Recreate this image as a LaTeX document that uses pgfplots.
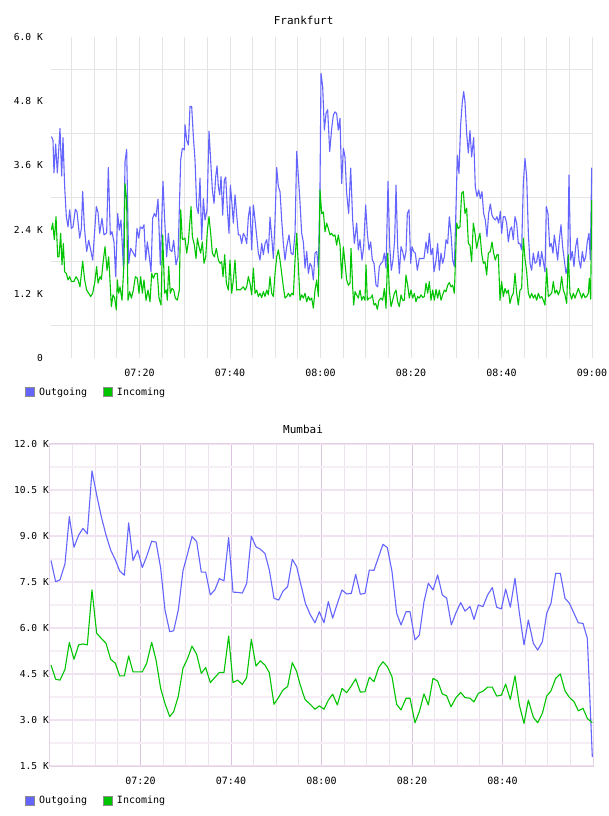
\documentclass[border=0pt]{standalone}
\usepackage{pgfplots}
\pgfplotsset{compat=1.18}
\usepackage{fontspec}
\setmainfont{DejaVu Sans Mono}

\definecolor{outblue}{RGB}{100,100,255}
\definecolor{ingreen}{RGB}{0,196,0}
\definecolor{gridgray}{RGB}{228,228,228}
\definecolor{mauvemaj}{RGB}{218,196,224}
\definecolor{mauvemin}{RGB}{236,226,238}
\definecolor{mauveh}{RGB}{240,226,241}
\definecolor{mauvehmin}{RGB}{245,239,245}
\definecolor{mauveframe}{RGB}{230,208,232}
\definecolor{legedge}{RGB}{140,140,140}

% Frankfurt, minutes after 07:00 / traffic in thousands
\pgfplotstableread{
m v
0.52 4.14
0.88 4.07
1.10 3.46
1.47 4.00
1.84 3.46
2.43 4.29
2.80 3.40
3.09 4.12
3.46 3.20
3.83 2.64
4.20 2.45
4.57 2.77
4.94 2.42
5.30 2.45
5.82 2.78
6.19 2.73
6.78 2.24
7.15 2.42
7.44 3.11
7.81 2.45
8.32 1.99
8.77 2.20
9.21 2.02
9.65 1.83
10.46 2.83
10.83 2.72
11.20 2.33
11.71 2.61
12.15 2.30
12.74 2.34
13.11 3.56
13.55 2.30
13.92 2.36
14.36 2.17
14.73 1.52
15.17 2.70
15.54 2.39
15.91 2.58
16.43 1.71
16.80 3.67
17.16 3.90
17.61 1.77
18.05 2.05
18.64 1.96
19.08 1.89
19.45 2.42
19.82 2.24
20.18 2.45
20.63 2.42
20.99 2.49
21.36 1.83
21.73 2.17
22.17 1.89
22.54 1.61
22.91 2.61
23.28 2.70
23.65 2.64
24.09 2.97
24.60 1.74
25.19 3.30
25.56 2.58
26.00 1.89
26.37 2.33
26.74 2.02
27.18 1.99
27.55 2.20
28.07 1.74
28.51 1.89
29.10 3.70
29.47 3.92
29.91 3.89
30.06 4.36
30.43 4.07
30.80 3.98
31.16 4.70
31.53 4.70
31.90 4.14
32.27 3.70
32.64 2.83
33.00 2.70
33.37 3.36
33.74 2.21
34.11 2.98
34.48 2.58
34.92 2.77
35.36 4.24
35.80 3.58
36.10 3.14
36.47 2.89
36.84 3.39
37.13 3.59
37.43 3.20
37.72 3.05
38.02 3.39
38.38 2.67
38.75 3.33
39.05 3.38
39.42 2.77
39.78 2.33
40.08 3.23
40.37 2.95
40.74 2.52
41.11 3.05
41.48 2.67
41.85 2.30
42.21 2.30
42.58 2.14
42.95 2.33
43.32 2.27
43.69 2.14
44.06 2.64
44.42 2.83
44.79 2.02
45.16 2.86
45.53 2.58
45.90 2.27
46.27 1.96
46.63 1.83
47.00 2.14
47.37 1.93
47.74 2.14
48.11 2.21
48.48 1.96
48.84 2.63
49.21 2.27
49.58 1.86
49.95 2.58
50.32 3.56
50.69 3.20
51.05 3.11
51.42 2.58
51.79 2.14
52.16 1.83
52.53 2.08
53.04 2.30
53.49 1.96
53.93 1.93
54.37 2.33
54.74 3.86
55.11 3.39
55.48 2.89
55.84 2.33
56.21 2.17
56.58 1.68
56.95 1.99
57.32 1.58
57.68 1.77
58.05 1.71
58.42 1.46
58.79 1.96
59.16 1.99
59.53 1.68
59.89 3.20
60.11 5.32
60.48 5.07
60.85 4.26
61.22 4.57
61.58 4.64
62.03 3.86
62.47 4.29
62.84 4.54
63.20 4.60
63.57 4.57
63.94 4.26
64.31 4.48
64.68 3.26
65.05 3.92
65.41 3.76
65.78 3.08
66.22 2.70
66.67 3.55
67.11 2.58
67.48 2.14
67.99 2.52
68.36 2.02
68.73 2.21
69.17 1.83
69.54 2.08
69.98 2.86
70.35 2.33
70.72 2.02
71.09 2.17
71.45 1.83
71.82 1.77
72.27 1.36
72.63 1.33
73.00 1.71
73.37 1.77
73.74 1.80
74.11 1.96
74.48 1.68
74.92 3.30
75.29 2.08
75.65 1.64
76.02 1.83
76.39 2.21
76.69 3.23
77.05 2.08
77.42 1.58
77.79 2.08
78.16 1.99
78.53 1.83
78.89 1.99
79.19 2.70
79.56 2.77
79.93 1.77
80.22 2.08
80.59 1.99
80.96 1.96
81.40 1.64
81.84 1.86
82.36 1.86
82.87 1.86
83.32 2.17
83.68 1.96
84.05 2.33
84.42 1.93
84.79 2.05
85.08 1.61
85.53 1.83
85.89 2.14
86.26 1.64
86.63 1.96
87.00 1.77
87.37 1.89
87.74 2.21
88.11 2.14
88.47 2.64
88.84 2.33
89.21 1.83
89.58 1.71
89.95 2.83
90.24 3.79
90.60 3.45
90.97 4.36
91.34 4.79
91.64 4.98
91.93 4.79
92.30 4.20
92.67 3.83
93.03 4.25
93.40 3.76
93.85 4.12
94.21 3.20
94.58 3.02
94.95 3.14
95.32 2.98
95.69 3.11
96.05 2.70
96.42 2.58
96.79 2.27
97.16 2.70
97.53 2.88
97.90 2.67
98.26 2.61
98.63 2.58
99.00 2.64
99.37 2.52
99.74 2.74
100.03 2.33
100.40 2.64
100.77 2.64
101.14 2.52
101.51 2.17
101.87 2.39
102.24 2.45
102.61 2.21
102.98 2.64
103.35 2.52
103.72 2.14
104.08 2.14
104.45 2.02
104.82 3.26
105.19 3.73
105.56 3.39
105.93 2.33
106.30 1.77
106.66 1.64
107.03 1.96
107.40 1.77
107.77 1.80
108.14 1.99
108.50 1.71
108.87 1.99
109.24 1.80
109.61 1.61
109.90 2.83
110.27 2.70
110.64 2.08
111.01 2.14
111.38 1.96
111.67 2.30
112.04 2.08
112.41 1.83
112.78 2.21
113.15 2.49
113.51 2.08
113.88 1.83
114.25 1.58
114.62 1.71
114.91 3.42
115.28 1.83
115.65 1.99
116.02 1.71
116.39 2.08
116.75 2.24
117.12 1.83
117.49 1.68
117.86 1.99
118.23 1.80
118.60 1.89
118.96 2.17
119.33 2.33
119.63 1.83
119.93 3.55
120.00 3.55
}\fraout

\pgfplotstableread{
m v
0.52 2.39
0.81 2.52
1.18 2.21
1.55 2.64
1.92 1.89
2.21 1.89
2.58 2.33
2.87 1.74
3.17 2.14
3.46 1.61
3.83 1.58
4.20 1.46
4.57 1.52
4.94 1.43
5.52 1.43
5.97 1.52
6.41 1.46
6.85 1.33
7.44 1.81
7.88 1.46
8.32 1.27
8.77 1.21
9.21 1.15
9.65 1.21
10.09 1.40
10.53 1.71
10.83 1.40
11.27 1.52
11.57 1.47
12.01 1.83
12.38 2.08
12.82 1.64
13.19 1.89
13.55 1.33
13.78 0.96
14.14 1.18
14.51 1.12
14.88 0.90
15.10 1.46
15.40 1.21
15.69 1.33
16.13 1.08
16.57 1.77
16.80 3.26
17.16 2.95
17.46 1.08
17.83 1.24
18.20 1.12
18.64 1.27
19.08 1.52
19.52 1.49
19.89 1.21
20.26 1.52
20.63 1.21
20.99 1.46
21.44 1.08
21.88 1.27
22.32 1.05
22.69 1.58
23.06 1.49
23.50 1.58
23.94 1.58
24.31 1.12
24.75 0.99
25.12 2.30
25.56 1.21
25.93 1.27
26.15 1.08
26.45 1.71
26.81 1.21
27.18 1.30
27.55 1.27
27.92 1.12
28.36 1.08
28.80 1.27
29.10 2.77
29.47 2.21
30.06 2.24
30.43 1.96
30.80 2.17
31.16 2.58
31.39 2.83
31.68 2.27
32.12 2.11
32.49 1.86
32.79 2.24
33.15 2.08
33.52 1.96
33.89 2.17
34.26 1.77
34.63 1.89
35.00 2.39
35.36 2.64
35.73 2.33
36.10 1.96
36.54 1.89
36.98 2.05
37.43 1.83
37.80 1.77
38.16 1.80
38.46 1.52
38.83 1.93
39.19 1.40
39.64 1.27
40.00 1.83
40.37 1.21
40.74 1.46
41.11 1.83
41.48 1.27
41.85 1.28
42.21 1.27
42.58 1.30
42.95 1.33
43.32 1.27
43.69 1.33
44.06 1.52
44.42 1.40
44.79 1.18
45.16 1.68
45.53 1.21
45.90 1.27
46.27 1.15
46.63 1.21
47.00 1.13
47.37 1.24
47.74 1.15
48.11 1.27
48.48 1.18
48.84 1.52
49.21 1.21
49.58 1.15
49.95 1.58
50.32 1.89
50.69 2.02
51.05 1.83
51.42 1.58
51.79 1.33
52.16 1.12
52.53 1.15
52.90 1.21
53.27 1.15
53.64 1.21
54.00 1.18
54.37 1.83
54.74 2.33
55.11 1.71
55.48 1.08
55.84 1.18
56.21 1.12
56.58 1.21
56.95 1.05
57.32 1.15
57.68 1.08
58.05 1.12
58.42 0.93
58.79 1.27
59.16 1.46
59.53 1.15
59.89 3.14
60.26 2.70
60.63 2.73
61.00 2.36
61.36 2.52
61.73 2.42
62.10 2.30
62.47 2.33
62.84 2.28
63.20 2.30
63.57 2.11
63.94 2.30
64.31 2.11
64.68 1.49
65.05 2.08
65.41 1.77
65.78 1.46
66.15 1.36
66.52 1.40
66.74 2.05
67.11 1.33
67.33 0.99
67.63 1.24
67.99 1.18
68.36 1.12
68.73 1.27
69.10 1.08
69.47 1.15
69.83 1.08
70.06 1.74
70.35 1.08
70.72 1.12
71.09 1.12
71.45 1.18
71.82 0.99
72.19 1.02
72.56 0.91
72.93 1.08
73.37 1.12
73.74 1.08
74.11 1.30
74.48 0.93
74.85 1.96
75.21 1.27
75.58 0.96
75.95 1.08
76.32 1.21
76.69 1.27
77.05 1.05
77.42 0.96
77.79 1.18
78.16 1.08
78.53 1.08
78.89 1.55
79.26 1.36
79.63 1.12
80.00 1.27
80.37 1.12
80.74 1.21
81.10 1.05
81.47 1.15
81.84 1.12
82.21 1.18
82.58 1.13
82.95 1.15
83.32 1.40
83.68 1.21
84.05 1.43
84.42 1.08
84.79 1.27
85.16 1.08
85.53 1.28
85.89 1.12
86.26 1.27
86.63 1.08
87.00 1.18
87.37 1.27
87.74 1.24
88.11 1.36
88.47 1.41
88.84 1.33
89.21 1.36
89.58 1.21
90.09 2.52
90.46 2.42
90.82 2.45
91.19 3.08
91.56 3.11
91.93 2.70
92.30 2.80
92.67 2.14
93.03 2.11
93.40 1.80
93.77 2.52
94.14 2.33
94.51 2.05
94.88 2.21
95.24 2.33
95.61 1.96
95.98 1.77
96.35 1.80
96.72 1.55
97.09 1.96
97.53 1.99
97.90 2.17
98.26 1.96
98.63 1.83
99.00 1.93
99.30 1.93
99.67 1.08
100.03 1.43
100.40 1.15
100.77 1.30
101.14 1.21
101.51 1.27
101.87 1.02
102.24 1.15
102.61 1.21
102.98 1.58
103.35 1.21
103.72 0.99
104.08 1.27
104.45 1.30
104.82 2.24
105.19 1.86
105.56 1.61
105.93 1.21
106.30 1.12
106.66 1.21
107.03 1.12
107.40 1.18
107.77 1.08
108.14 1.21
108.50 1.12
108.87 1.15
109.24 1.08
109.61 0.99
109.98 1.68
110.35 1.15
110.72 1.18
111.09 1.21
111.45 1.43
111.82 1.21
112.19 1.27
112.56 1.18
112.93 1.27
113.29 1.52
113.66 1.27
114.03 1.18
114.40 1.02
114.77 1.93
115.13 1.21
115.50 1.10
115.87 1.21
116.24 1.12
116.61 1.21
116.98 1.30
117.35 1.21
117.71 1.12
118.08 1.21
118.45 1.13
118.82 1.15
119.19 1.21
119.41 1.49
119.71 1.10
119.93 2.92
120.00 2.95
}\frain

% Mumbai
\pgfplotstableread{
m v
0.22 8.20
1.25 7.51
2.21 7.57
3.31 8.09
4.27 9.63
5.30 8.63
6.34 9.03
7.29 9.25
8.25 9.07
9.28 11.12
10.31 10.34
11.34 9.63
12.38 9.03
13.41 8.54
14.44 8.22
15.40 7.86
16.43 7.72
17.38 9.43
18.34 8.20
19.37 8.54
20.40 7.97
21.36 8.33
22.47 8.83
23.43 8.80
24.46 7.95
25.41 6.59
26.45 5.88
27.33 5.91
28.36 6.59
29.39 7.87
30.42 8.43
31.38 8.98
32.41 8.82
33.44 7.82
34.40 7.82
35.43 7.08
36.46 7.25
37.42 7.61
38.45 7.54
39.48 8.95
40.44 7.17
41.47 7.16
42.50 7.14
43.46 7.45
44.49 8.99
45.52 8.65
46.48 8.57
47.51 8.43
48.47 7.89
49.50 6.97
50.53 6.91
51.49 7.20
52.52 7.35
53.55 8.24
54.51 8.00
55.47 7.40
56.45 6.80
57.46 6.45
58.56 6.17
59.52 6.53
60.55 6.17
61.51 6.86
62.47 6.32
63.50 6.80
64.53 7.24
65.56 7.11
66.59 7.13
67.55 7.75
68.58 7.10
69.61 7.13
70.57 7.89
71.60 7.88
72.64 8.33
73.59 8.73
74.55 8.62
75.58 7.84
76.61 6.48
77.57 6.10
78.68 6.53
79.56 6.53
80.66 5.61
81.62 5.77
82.65 6.86
83.61 7.46
84.64 7.24
85.67 7.73
86.70 7.08
87.66 6.97
88.70 6.10
89.72 6.50
90.76 6.83
91.71 6.55
92.82 6.70
93.70 6.28
94.66 6.75
95.69 6.70
96.72 7.08
97.75 7.32
98.71 6.68
99.74 6.62
100.70 7.27
101.73 6.68
102.76 7.62
103.72 6.50
104.75 5.45
105.71 6.26
106.82 5.50
107.77 5.28
108.81 5.55
109.77 6.48
110.72 6.81
111.75 7.78
112.78 7.78
113.81 6.97
114.77 6.81
115.80 6.48
116.76 6.17
117.79 6.15
118.75 5.66
119.85 1.80
}\mumout

\pgfplotstableread{
m v
0.22 4.79
1.25 4.33
2.21 4.30
3.31 4.65
4.27 5.53
5.30 4.98
6.34 5.45
7.29 5.48
8.25 5.45
9.28 7.24
10.31 5.83
11.34 5.66
12.38 5.50
13.41 4.98
14.44 4.85
15.40 4.44
16.43 4.44
17.38 5.09
18.34 4.57
19.37 4.57
20.40 4.57
21.36 4.85
22.47 5.53
23.43 4.96
24.46 4.03
25.41 3.54
26.45 3.11
27.33 3.27
28.36 3.78
29.39 4.69
30.42 5.01
31.38 5.41
32.41 5.14
33.44 4.52
34.40 4.71
35.43 4.22
36.46 4.39
37.42 4.55
38.45 4.55
39.48 5.74
40.44 4.22
41.47 4.30
42.50 4.16
43.46 4.38
44.49 5.63
45.52 4.76
46.48 4.93
47.51 4.79
48.47 4.54
49.50 3.51
50.53 3.74
51.49 3.98
52.52 4.09
53.55 4.87
54.51 4.58
55.25 4.17
56.35 3.67
57.46 3.52
58.56 3.35
59.52 3.46
60.55 3.35
61.51 3.65
62.47 3.84
63.50 3.49
64.53 4.03
65.56 3.89
66.59 4.11
67.55 4.34
68.58 3.91
69.61 3.92
70.57 4.39
71.60 4.25
72.64 4.71
73.59 4.90
74.55 4.74
75.58 4.41
76.61 3.51
77.57 3.33
78.68 3.71
79.56 3.71
80.66 2.91
81.62 3.27
82.65 3.85
83.61 3.49
84.64 4.36
85.67 4.27
86.70 3.85
87.66 3.79
88.62 3.43
89.72 3.73
90.76 3.90
91.71 3.73
92.82 3.71
93.70 3.59
94.66 3.87
95.69 3.94
96.72 4.07
97.75 4.07
98.71 3.78
99.74 3.81
100.70 4.17
101.73 3.67
102.76 4.44
103.72 3.49
104.75 2.89
105.71 3.65
106.82 3.09
107.77 2.91
108.81 3.22
109.77 3.78
110.72 3.95
111.75 4.36
112.78 4.50
113.81 3.95
114.77 3.74
115.80 3.60
116.76 3.30
117.79 3.38
118.75 3.05
119.85 2.91
}\mumin

\pgfplotsset{
  traffic/.style={
    scale only axis,
    anchor=south west,
    xmax=120,
    major tick length=0pt,
    minor tick length=0pt,
    tick style={draw=none},
    ticklabel style={font=\fontsize{9.6}{11}\selectfont, inner sep=0pt},
    xticklabel style={anchor=center, yshift=-15pt, font=\fontsize{10}{12}\selectfont},
    yticklabel style={anchor=east},
    minor xtick={5,10,...,120},
    legend columns=2,
    legend cell align=left,
    legend style={anchor=west, draw=none, fill=none, inner sep=0pt,
      font=\fontsize{10}{12}\selectfont,
      /tikz/every odd column/.append style={column sep=2pt},
      /tikz/every even column/.append style={column sep=14pt}},
  },
  trace/.style={line width=1.1pt, line join=round},
}

\begin{document}
\begin{tikzpicture}
\useasboundingbox (0pt,0pt) rectangle (608pt,816pt);

% upper panel
\begin{axis}[traffic,
  at={(51pt,458pt)}, width=541pt, height=321pt,
  xmin=0.44, ymin=0, ymax=6,
  axis line style={draw=none},
  xtick={20,40,60,80,100,120},
  xticklabels={07:20,07:40,08:00,08:20,08:40,09:00},
  ytick={0,1.2,2.4,3.6,4.8,6.0},
  yticklabels={0,1.2 K,2.4 K,3.6 K,4.8 K,6.0 K},
  yticklabel style={xshift=-8pt},
  minor ytick={0.6,1.8,3.0,4.2,5.4},
  xmajorgrids=true, xminorgrids=true, yminorgrids=true,
  major grid style={draw=gridgray, line width=0.9pt},
  minor grid style={draw=gridgray, line width=0.9pt},
  title={Frankfurt},
  title style={at={(axis description cs:0.467,1.018)}, anchor=south,
    inner sep=0pt, font=\fontsize{11}{13}\selectfont},
  legend style={at={(axis description cs:-0.048,-0.106)}},
]
\addlegendimage{legend image code/.code={\draw[fill=outblue, draw=legedge, line width=0.8pt] (0pt,-4.5pt) rectangle (9pt,4.5pt);}}
\addlegendentry{Outgoing}
\addlegendimage{legend image code/.code={\draw[fill=ingreen, draw=legedge, line width=0.8pt] (0pt,-4.5pt) rectangle (9pt,4.5pt);}}
\addlegendentry{Incoming}
\addplot[trace, draw=outblue, forget plot] table[x=m, y=v] {\fraout};
\addplot[trace, draw=ingreen, forget plot] table[x=m, y=v] {\frain};
\end{axis}

% lower panel
\begin{axis}[traffic,
  at={(50pt,50pt)}, width=543pt, height=322pt,
  xmin=0, ymin=1.5, ymax=12,
  axis line style={draw=mauveframe, line width=1pt},
  xtick={20,40,60,80,100},
  xticklabels={07:20,07:40,08:00,08:20,08:40},
  ytick={1.5,3,4.5,6,7.5,9,10.5,12},
  yticklabels={1.5 K,3.0 K,4.5 K,6.0 K,7.5 K,9.0 K,10.5 K,12.0 K},
  yticklabel style={xshift=-1pt},
  minor ytick={2.25,3.75,5.25,6.75,8.25,9.75,11.25},
  xmajorgrids=true, xminorgrids=true, ymajorgrids=true, yminorgrids=true,
  minor x grid style={draw=mauvemin, line width=0.9pt},
  major x grid style={draw=mauvemaj, line width=0.9pt},
  minor y grid style={draw=mauvehmin, line width=1.6pt},
  major y grid style={draw=mauveh, line width=1.8pt},
  title={Mumbai},
  title style={at={(axis description cs:0.466,1.014)}, anchor=south,
    inner sep=0pt, font=\fontsize{11}{13}\selectfont},
  legend style={at={(axis description cs:-0.046,-0.107)}},
]
\addlegendimage{legend image code/.code={\draw[fill=outblue, draw=legedge, line width=0.8pt] (0pt,-4.5pt) rectangle (9pt,4.5pt);}}
\addlegendentry{Outgoing}
\addlegendimage{legend image code/.code={\draw[fill=ingreen, draw=legedge, line width=0.8pt] (0pt,-4.5pt) rectangle (9pt,4.5pt);}}
\addlegendentry{Incoming}
\addplot[trace, draw=outblue, forget plot] table[x=m, y=v] {\mumout};
\addplot[trace, draw=ingreen, forget plot] table[x=m, y=v] {\mumin};
\end{axis}
\end{tikzpicture}
\end{document}
